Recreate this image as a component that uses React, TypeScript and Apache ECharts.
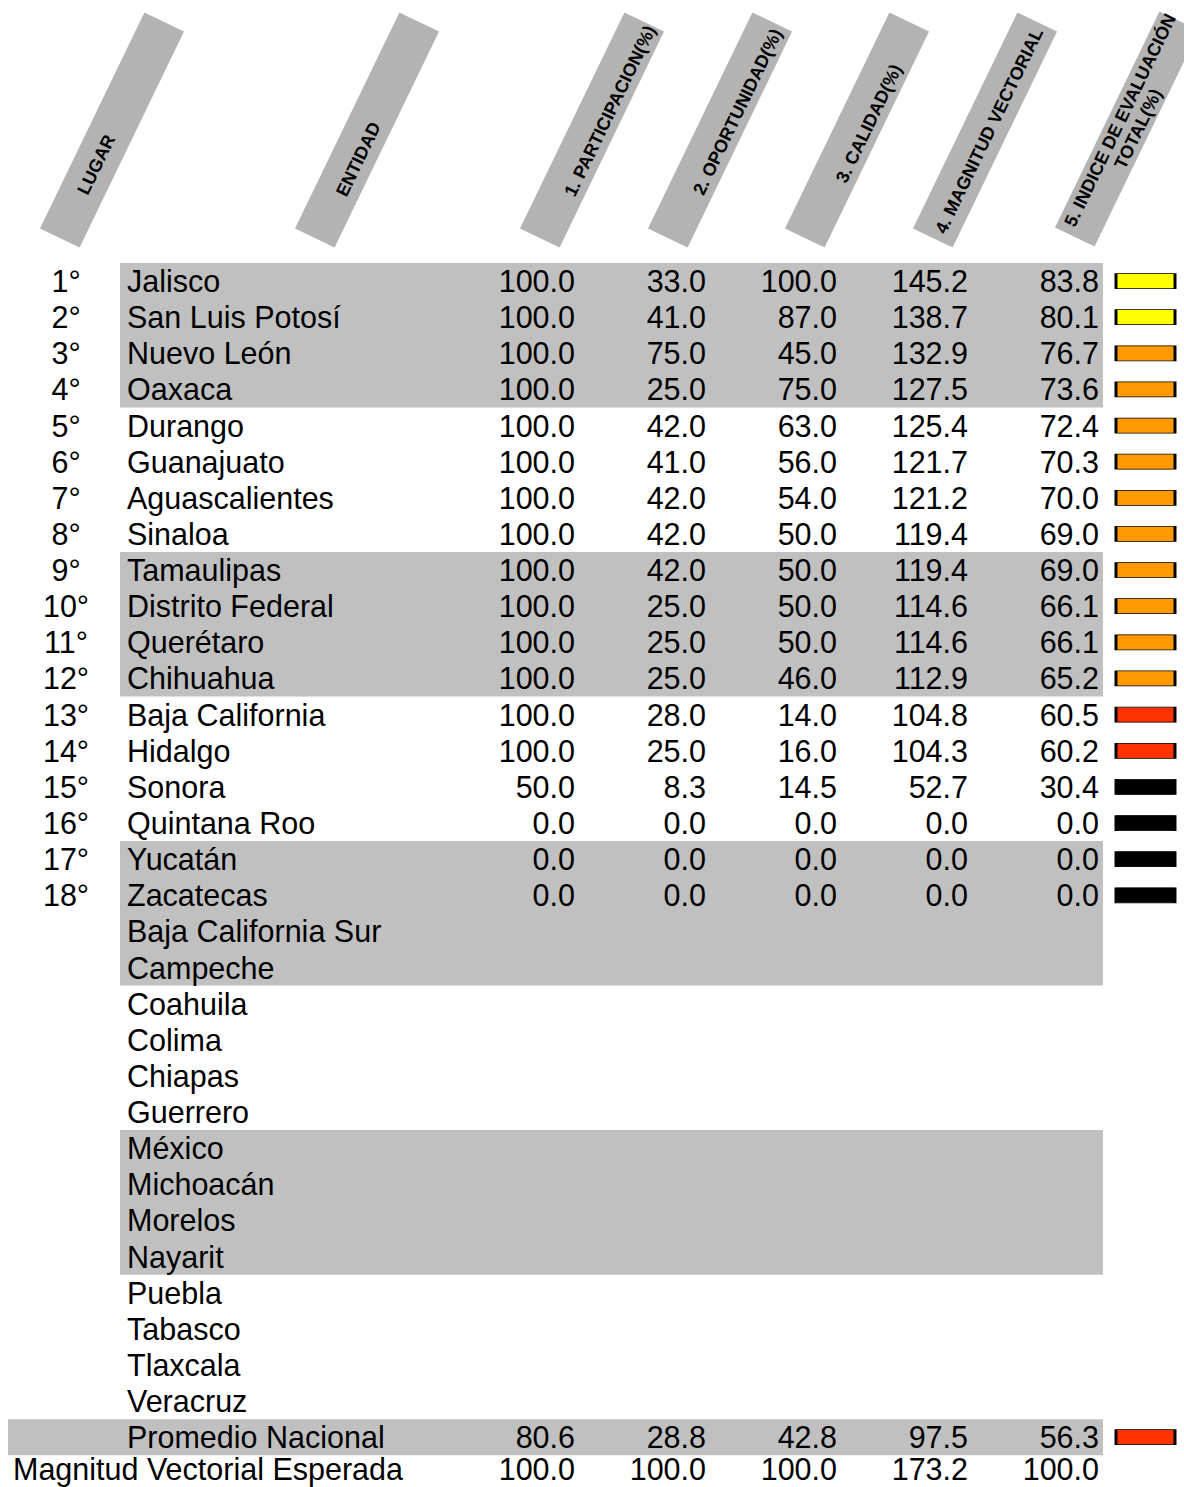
import React, { useEffect, useRef } from "react";
import * as echarts from "echarts";

// ---------------- data ----------------
const headers = [
  "LUGAR",
  "ENTIDAD",
  "1. PARTICIPACION(%)",
  "2. OPORTUNIDAD(%)",
  "3. CALIDAD(%)",
  "4. MAGNITUD VECTORIAL",
  "5. INDICE DE EVALUACIÓN\nTOTAL(%)",
];
const lugares = ["1°", "2°", "3°", "4°", "5°", "6°", "7°", "8°", "9°", "10°", "11°", "12°", "13°", "14°", "15°", "16°", "17°", "18°"];
const entidades = [
  "Jalisco", "San Luis Potosí", "Nuevo León", "Oaxaca", "Durango", "Guanajuato", "Aguascalientes", "Sinaloa",
  "Tamaulipas", "Distrito Federal", "Querétaro", "Chihuahua", "Baja California", "Hidalgo", "Sonora", "Quintana Roo",
  "Yucatán", "Zacatecas", "Baja California Sur", "Campeche", "Coahuila", "Colima", "Chiapas", "Guerrero",
  "México", "Michoacán", "Morelos", "Nayarit", "Puebla", "Tabasco", "Tlaxcala", "Veracruz",
];
const participacion = [100.0, 100.0, 100.0, 100.0, 100.0, 100.0, 100.0, 100.0, 100.0, 100.0, 100.0, 100.0, 100.0, 100.0, 50.0, 0.0, 0.0, 0.0];
const oportunidad = [33.0, 41.0, 75.0, 25.0, 42.0, 41.0, 42.0, 42.0, 42.0, 25.0, 25.0, 25.0, 28.0, 25.0, 8.3, 0.0, 0.0, 0.0];
const calidad = [100.0, 87.0, 45.0, 75.0, 63.0, 56.0, 54.0, 50.0, 50.0, 50.0, 50.0, 46.0, 14.0, 16.0, 14.5, 0.0, 0.0, 0.0];
const magnitud = [145.2, 138.7, 132.9, 127.5, 125.4, 121.7, 121.2, 119.4, 119.4, 114.6, 114.6, 112.9, 104.8, 104.3, 52.7, 0.0, 0.0, 0.0];
const indice = [83.8, 80.1, 76.7, 73.6, 72.4, 70.3, 70.0, 69.0, 69.0, 66.1, 66.1, 65.2, 60.5, 60.2, 30.4, 0.0, 0.0, 0.0];
const promedioLabel = "Promedio Nacional";
const promedio = [80.6, 28.8, 42.8, 97.5, 56.3];
const esperadaLabel = "Magnitud Vectorial Esperada";
const esperada = [100.0, 100.0, 100.0, 173.2, 100.0];

// ---------------- layout / style ----------------
const W = 1184;
const H = 1487;
const ROW_H = 36.13;
const TOP = 263;
const Y_MAX = (H - TOP) / ROW_H;
const COL_LUGAR = 66;
const COL_ENT = 127;
const COL_ESP = 13;
const NUM_RIGHT = [575, 706, 837, 968, 1099];
const BOX_X = 1145.5;
const BAND_X0 = 120;
const BAND_X1 = 1103;
const PROM_X0 = 8;
const LAST_ROW_DY = -4;
const FONT = '30.5px "Liberation Sans", Arial, sans-serif';
const HFONT = 'bold 18px "Liberation Sans", Arial, sans-serif';
const HEAD_ANGLE = (64.2 * Math.PI) / 180;
const headCx = [112, 367, 592, 720, 857, 985, 1127];
const headCy = [130, 130, 130, 130, 130, 130, 129];
const headAlong = [-38, -30, 25, 24, 11, 1, 5];
const headPerp = [1, 5, 8, 8, 8, 4, 0];

function boxColor(v: number) {
  if (v >= 80) return "#FFFF00";
  if (v >= 65) return "#FF9900";
  if (v >= 50) return "#FF3300";
  return "#000000";
}

type Cell = { x: number; r: number; text: string; align: string; dy: number };

function buildCells(): Cell[] {
  const cells: Cell[] = [];
  const cols = [participacion, oportunidad, calidad, magnitud, indice];
  entidades.forEach((name, i) => {
    if (i < lugares.length) cells.push({ x: COL_LUGAR, r: i, text: lugares[i], align: "center", dy: 0 });
    cells.push({ x: COL_ENT, r: i, text: name, align: "left", dy: 0 });
    if (i < lugares.length) {
      cols.forEach((col, c) => cells.push({ x: NUM_RIGHT[c], r: i, text: col[i].toFixed(1), align: "right", dy: 0 }));
    }
  });
  const rp = entidades.length;
  cells.push({ x: COL_ENT, r: rp, text: promedioLabel, align: "left", dy: 0 });
  promedio.forEach((v, c) => cells.push({ x: NUM_RIGHT[c], r: rp, text: v.toFixed(1), align: "right", dy: 0 }));
  const re = rp + 1;
  cells.push({ x: COL_ESP, r: re, text: esperadaLabel, align: "left", dy: LAST_ROW_DY });
  esperada.forEach((v, c) => cells.push({ x: NUM_RIGHT[c], r: re, text: v.toFixed(1), align: "right", dy: LAST_ROW_DY }));
  return cells;
}

export default function App() {
  const ref = useRef<HTMLDivElement>(null);
  useEffect(() => {
    if (!ref.current) return;
    const chart = echarts.init(ref.current, undefined, { renderer: "svg" });
    const cells = buildCells();

    // bands: groups of 4 rows, alternating
    const bands: number[][] = [];
    for (let g = 0; g < entidades.length / 4; g += 2) {
      bands.push([BAND_X0, BAND_X1, g * 4, g * 4 + 3]);
    }
    bands.push([PROM_X0, BAND_X1, entidades.length, entidades.length]);

    const boxes = indice.map((v, i) => ({ value: [BOX_X, i + 0.5], itemStyle: { color: boxColor(v) } }));
    boxes.push({ value: [BOX_X, entidades.length + 0.5], itemStyle: { color: boxColor(promedio[4]) } });

    const headerEls = headers.map((h, i) => ({
      type: "group",
      x: headCx[i],
      y: headCy[i],
      rotation: HEAD_ANGLE,
      children: [
        { type: "rect", shape: { x: -120, y: -22, width: 240, height: 44 }, style: { fill: "#b3b3b3" } },
        {
          type: "text",
          x: headAlong[i],
          y: headPerp[i],
          style: { text: h, font: HFONT, fill: "#000", align: "center", verticalAlign: "middle", lineHeight: 20 },
        },
      ],
    }));

    chart.setOption({
      animation: false,
      backgroundColor: "#ffffff",
      grid: { left: 0, right: 0, top: TOP, bottom: 0 },
      xAxis: { type: "value", min: 0, max: W, show: false },
      yAxis: { type: "value", min: 0, max: Y_MAX, inverse: true, show: false },
      graphic: { elements: headerEls },
      series: [
        {
          type: "custom",
          name: "bands",
          data: bands,
          encode: { x: [0, 1], y: [2, 3] },
          renderItem: (params: any, api: any) => {
            const p0 = api.coord([api.value(0), api.value(2)]);
            const p1 = api.coord([api.value(1), api.value(3) + 1]);
            return {
              type: "rect",
              shape: { x: p0[0], y: p0[1], width: p1[0] - p0[0], height: p1[1] - p0[1] },
              style: { fill: "#c0c0c0" },
            };
          },
          z: 1,
        },
        {
          type: "custom",
          name: "cells",
          data: cells.map((c) => [c.x, c.r + 0.5]),
          renderItem: (params: any, api: any) => {
            const c = cells[params.dataIndex];
            const p = api.coord([api.value(0), api.value(1)]);
            return {
              type: "text",
              x: p[0],
              y: p[1] + c.dy,
              style: { text: c.text, font: FONT, fill: "#000", align: c.align, verticalAlign: "middle" },
            };
          },
          z: 3,
        },
        {
          type: "scatter",
          name: "semaforo",
          symbol: "rect",
          symbolSize: [59, 15],
          data: boxes,
          itemStyle: { borderColor: "#000", borderWidth: 1.5, opacity: 1 },
          z: 4,
        },
      ],
    });
    return () => chart.dispose();
  }, []);
  return <div ref={ref} style={{ position: "absolute", left: 0, top: 0, width: W, height: H }} />;
}
